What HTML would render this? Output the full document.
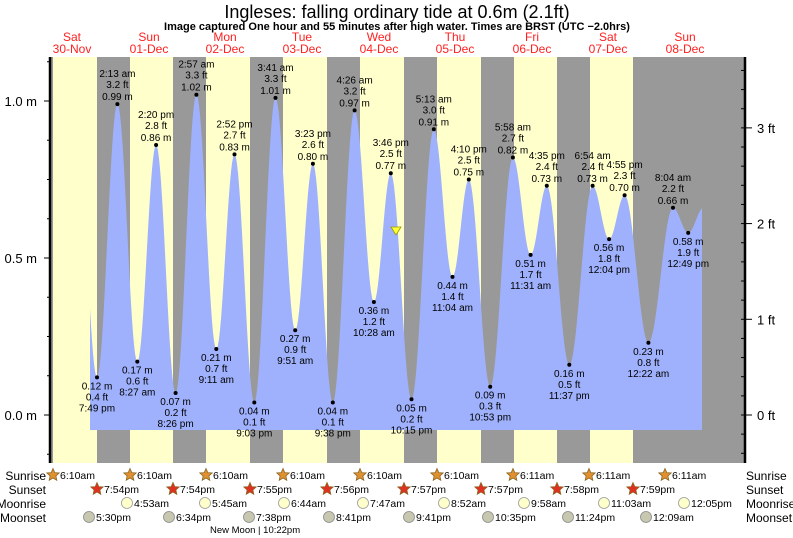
<!DOCTYPE html>
<html><head><meta charset="utf-8"><style>
body{margin:0;background:#fff}
svg{display:block;font-family:"Liberation Sans",sans-serif}
</style></head><body>
<svg id="s" width="793" height="538" xmlns="http://www.w3.org/2000/svg">
<rect x="0" y="0" width="793" height="538" fill="#fff"/>
<text x="397" y="18" font-size="18" text-anchor="middle">Ingleses: falling  ordinary tide at 0.6m (2.1ft)</text>
<text x="397" y="30" font-size="11" font-weight="bold" text-anchor="middle">Image captured One hour and 55 minutes after high water. Times are BRST (UTC −2.0hrs)</text>
<g id="bands"></g>
<path id="tide" fill="#9fb1fc"/>
<g id="ax"></g>
<g id="lab" font-size="10" text-anchor="middle" fill="#000"></g>
<polygon points="391,227 401,227 396,235" fill="#ffff33" stroke="#999900" stroke-width="0.8"/>
<g id="bot" font-size="10.5"></g>
</svg>
<script>
const NS="http://www.w3.org/2000/svg";
function el(p,t,a,txt){const e=document.createElementNS(NS,t);for(const k in a)e.setAttribute(k,a[k]);if(txt!==undefined)e.textContent=txt;document.getElementById(p).appendChild(e);return e;}
// bands
el('bands','rect',{x:50,y:57,width:695,height:406,fill:'#ffffcc'});
el('bands','rect',{x:50,y:57,width:3,height:406,fill:'#999'});
[97,173,250,327,404,481,557].forEach(x=>el('bands','rect',{x:x,y:57,width:33,height:406,fill:'#999'}));
el('bands','rect',{x:633,y:57,width:112,height:406,fill:'#999'});
// days
const days=[["Sat","30-Nov",72],["Sun","01-Dec",149],["Mon","02-Dec",225],["Tue","03-Dec",302],["Wed","04-Dec",379],["Thu","05-Dec",455],["Fri","06-Dec",532],["Sat","07-Dec",608],["Sun","08-Dec",685]];
days.forEach(d=>{el('bands','text',{x:d[2],y:41,'font-size':12,'text-anchor':'middle',fill:'#ff2020'},d[0]);el('bands','text',{x:d[2],y:53,'font-size':12,'text-anchor':'middle',fill:'#ff2020'},d[1]);});
// tide extremes [x,m,time,ft,high]
const P=[[97,.12,"7:49 pm","0.4 ft",0],[117.4,.99,"2:13 am","3.2 ft",1],[137.3,.17,"8:27 am","0.6 ft",0],[156.1,.86,"2:20 pm","2.8 ft",1],[175.6,.07,"8:26 pm","0.2 ft",0],[196.4,1.02,"2:57 am","3.3 ft",1],[216.3,.21,"9:11 am","0.7 ft",0],[234.5,.83,"2:52 pm","2.7 ft",1],[254.3,.04,"9:03 pm","0.1 ft",0],[275.5,1.01,"3:41 am","3.3 ft",1],[295.2,.27,"9:51 am","0.9 ft",0],[312.9,.80,"3:23 pm","2.6 ft",1],[332.8,.04,"9:38 pm","0.1 ft",0],[354.6,.97,"4:26 am","3.2 ft",1],[373.9,.36,"10:28 am","1.2 ft",0],[390.8,.77,"3:46 pm","2.5 ft",1],[411.5,.05,"10:15 pm","0.2 ft",0],[433.8,.91,"5:13 am","3.0 ft",1],[452.5,.44,"11:04 am","1.4 ft",0],[468.8,.75,"4:10 pm","2.5 ft",1],[490.2,.09,"10:53 pm","0.3 ft",0],[512.9,.82,"5:58 am","2.7 ft",1],[530.6,.51,"11:31 am","1.7 ft",0],[546.8,.73,"4:35 pm","2.4 ft",1],[569.3,.16,"11:37 pm","0.5 ft",0],[592.6,.73,"6:54 am","2.4 ft",1],[609.1,.56,"12:04 pm","1.8 ft",0],[624.6,.70,"4:55 pm","2.3 ft",1],[648.4,.23,"12:22 am","0.8 ft",0],[673.0,.66,"8:04 am","2.2 ft",1],[688.2,.58,"12:49 pm","1.9 ft",0]];
const Y=m=>415-m*314;
let pts=[[78,.85]].concat(P.map(p=>[p[0],p[1]])).concat([[703.6,.66]]);
let d="M90,430";
for(let x=90;x<=702;x+=1){let i=0;while(i<pts.length-2&&pts[i+1][0]<x)i++;const a=pts[i],b=pts[i+1];let f=(x-a[0])/(b[0]-a[0]);f=Math.max(0,Math.min(1,f));const m=a[1]+(b[1]-a[1])*(1-Math.cos(Math.PI*f))/2;d+=" L"+x+","+Y(m).toFixed(1);}
d+=" L702,430 Z";document.getElementById('tide').setAttribute('d',d);
P.forEach(p=>{const y=Y(p[1]);el('lab','circle',{cx:p[0],cy:y,r:2});
 if(p[4]){el('lab','text',{x:p[0],y:y-27},p[2]);el('lab','text',{x:p[0],y:y-16},p[3]);el('lab','text',{x:p[0],y:y-4},p[1].toFixed(2)+" m");}
 else{el('lab','text',{x:p[0],y:y+12},p[1].toFixed(2)+" m");el('lab','text',{x:p[0],y:y+23},p[3]);el('lab','text',{x:p[0],y:y+34},p[2]);}});
// axes
el('ax','line',{x1:50,y1:57,x2:50,y2:463,stroke:'#000','stroke-width':2.5});
el('ax','line',{x1:745,y1:57,x2:745,y2:463,stroke:'#000','stroke-width':2.5});
for(let m=-0.25;m<=1.15;m+=0.125){const y=Y(m);if(y<58||y>462)continue;const maj=Math.abs(m*2-Math.round(m*2))<.01;el('ax','line',{x1:maj?44:47,y1:y,x2:50,y2:y,stroke:'#000'});}
[[1.0,"1.0 m"],[0.5,"0.5 m"],[0,"0.0 m"]].forEach(a=>el('ax','text',{x:37,y:Y(a[0])+5,'font-size':13,'text-anchor':'end'},a[1]));
for(let f=-0.4;f<=4.2;f+=0.2){const y=Y(f*0.3048);if(y<58||y>462)continue;const maj=Math.abs(f-Math.round(f))<.01;el('ax','line',{x1:741,y1:y,x2:maj?752:745,y2:y,stroke:'#000'});if(maj)el('ax','text',{x:757,y:y+5,'font-size':13},Math.round(f)+" ft");}
// bottom rows
const rows=[["Sunrise",476],["Sunset",490],["Moonrise",504],["Moonset",518]];
rows.forEach(r=>{el('bot','text',{x:46,y:r[1]+4,'text-anchor':'end','font-size':12},r[0]);el('bot','text',{x:746,y:r[1]+4,'font-size':12},r[0]);});
function star(cx,cy,fill){let s="";for(let i=0;i<10;i++){const R=i%2?3:6.5,a=-Math.PI/2+i*Math.PI/5;s+=(cx+R*Math.cos(a)).toFixed(1)+","+(cy+R*Math.sin(a)).toFixed(1)+" ";}el('bot','polygon',{points:s,fill:fill,stroke:'#886622','stroke-width':0.8});}
const sr=[[53,"6:10am"],[130,"6:10am"],[206,"6:10am"],[283,"6:10am"],[360,"6:10am"],[437,"6:10am"],[513,"6:11am"],[589,"6:11am"],[665,"6:11am"]];
sr.forEach(s=>{star(s[0],475,'#e09030');el('bot','text',{x:s[0]+7,y:479},s[1]);});
const ss=[[97,"7:54pm"],[173,"7:54pm"],[250,"7:55pm"],[327,"7:56pm"],[404,"7:57pm"],[481,"7:57pm"],[557,"7:58pm"],[633,"7:59pm"]];
ss.forEach(s=>{star(s[0],489,'#e03020');el('bot','text',{x:s[0]+7,y:493},s[1]);});
const mr=[[127,"4:53am"],[205,"5:45am"],[284,"6:44am"],[363,"7:47am"],[444,"8:52am"],[524,"9:58am"],[604,"11:03am"],[684,"12:05pm"]];
mr.forEach(s=>{el('bot','circle',{cx:s[0],cy:503,r:5.5,fill:'#ffffcc',stroke:'#999','stroke-width':0.8});el('bot','text',{x:s[0]+7,y:507},s[1]);});
const ms=[[89,"5:30pm"],[169,"6:34pm"],[249,"7:38pm"],[329,"8:41pm"],[409,"9:41pm"],[488,"10:35pm"],[568,"11:24pm"],[646,"12:09am"]];
ms.forEach(s=>{el('bot','circle',{cx:s[0],cy:517,r:5.5,fill:'#c8c8b0',stroke:'#888','stroke-width':0.8});el('bot','text',{x:s[0]+7,y:521},s[1]);});
el('bot','text',{x:210,y:533,'font-size':9.5},"New Moon | 10:22pm");
</script>
</body></html>
